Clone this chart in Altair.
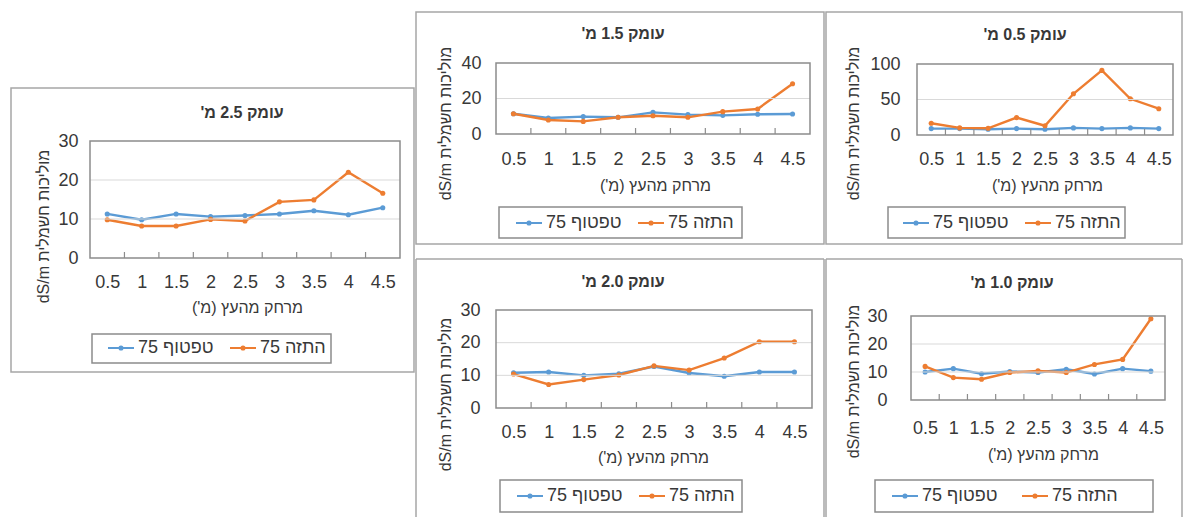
import altair as alt
import pandas as pd

# Distance from the tree (m) - shared x categories
distances = [0.5, 1, 1.5, 2, 2.5, 3, 3.5, 4, 4.5]

# Series (irrigation method) names and colours
series_names = ["טפטוף 75", "התזה 75"]
series_colors = ["#5B9BD5", "#ED7D31"]

# Electrical conductivity (dS/m) per depth
drip_05 = [9, 9, 8, 9, 8, 10, 9, 10, 9]
spray_05 = [16.5, 10, 9.5, 24.5, 13, 58, 91, 51, 37]

drip_10 = [10.0, 11.2, 9.4, 10.2, 9.8, 11.0, 9.3, 11.2, 10.3]
spray_10 = [12.0, 8.0, 7.4, 9.8, 10.4, 9.8, 12.7, 14.5, 29.0]

drip_15 = [11.4, 9.0, 9.8, 9.4, 12.2, 10.9, 10.5, 11.1, 11.3]
spray_15 = [11.4, 7.9, 7.1, 9.4, 10.3, 9.4, 12.6, 14.1, 28.3]

drip_20 = [10.8, 11.0, 10.0, 10.5, 12.7, 10.7, 9.7, 11.0, 11.0]
spray_20 = [10.4, 7.2, 8.7, 10.1, 12.9, 11.6, 15.3, 20.3, 20.3]

drip_25 = [11.3, 9.8, 11.3, 10.6, 10.9, 11.3, 12.1, 11.1, 12.9]
spray_25 = [9.8, 8.2, 8.2, 9.9, 9.5, 14.4, 14.9, 22.0, 16.6]

# Panel titles and y-axis tick values
titles = {
    "0.5": "עומק 0.5 מ'",
    "1.0": "עומק 1.0 מ'",
    "1.5": "עומק 1.5 מ'",
    "2.0": "עומק 2.0 מ'",
    "2.5": "עומק 2.5 מ'",
}
y_ticks = {
    "0.5": [0, 50, 100],
    "1.0": [0, 10, 20, 30],
    "1.5": [0, 20, 40],
    "2.0": [0, 10, 20, 30],
    "2.5": [0, 10, 20, 30],
}
x_title = "מרחק מהעץ (מ')"
y_title = "מוליכות חשמלית dS/m"

RLE, PDF = "\u202b", "\u202c"


def rtl(s):
    return RLE + s + PDF


FONT = "Liberation Sans"
TEXT = "#383838"
BORDER = "#a6a6a6"
FRAME = "#8c8c8c"
GRID = "#d9d9d9"
TICK_FS = 18
LEG_FS = 18
ATITLE_FS = 16

# Layout of every panel, in pixels relative to the panel's own origin
layout = {
    "2.5": dict(W=405, H=362, box=(1, 404, 77, 361), open_bottom=False,
                title=(232, 102), plot=(80, 390, 130, 247),
                ylab_pad=12, ytitle=(33, 215), xlab_pad=24, xtitle=(237, 49),
                legend=(97, 323), leg_box=(82, 321, 323, 352), col_pad=12),
    "1.5": dict(W=410, H=234, box=(1, 409, 1, 233), open_bottom=False,
                title=(208, 23), plot=(81, 395, 52, 123),
                ylab_pad=15, ytitle=(30, 112), xlab_pad=25, xtitle=(240, 51),
                legend=(100, 198), leg_box=(84, 327, 196, 227), col_pad=12),
    "0.5": dict(W=358, H=234, box=(1, 357, 1, 233), open_bottom=False,
                title=(200, 24), plot=(92, 348, 53, 124),
                ylab_pad=17, ytitle=(28, 112), xlab_pad=24, xtitle=(222, 50),
                legend=(77, 198), leg_box=(63, 300, 196, 227), col_pad=12),
    "2.0": dict(W=410, H=259, box=(1, 409, 1, 259), open_bottom=True,
                title=(208, 24), plot=(81, 397, 52, 150),
                ylab_pad=16, ytitle=(30, 136), xlab_pad=24, xtitle=(238, 49),
                legend=(101, 224), leg_box=(85, 327, 222, 254), col_pad=12),
    "1.0": dict(W=358, H=259, box=(1, 357, 1, 259), open_bottom=True,
                title=(187, 25), plot=(86, 340, 58, 142),
                ylab_pad=24, ytitle=(28, 123), xlab_pad=28, xtitle=(218, 54),
                legend=(66, 224), leg_box=(50, 328, 222, 254), col_pad=20),
}

step = distances[1] - distances[0]
x_lo, x_hi = distances[0] - step / 2, distances[-1] + step / 2
boundaries = [(a + b) / 2 for a, b in zip(distances, distances[1:])]

LEGEND_SYMBOL = "M-1,0H1M0.12,0A0.12,0.12,0,1,1,-0.12,0A0.12,0.12,0,1,1,0.12,0Z"


def one_row():
    return pd.DataFrame({"k": [0]})


def panel(key, drip, spray):
    g = layout[key]
    W, H = g["W"], g["H"]
    px0, px1, py0, py1 = g["plot"]
    ticks = y_ticks[key]

    df = pd.DataFrame({
        "dist": distances * 2,
        "value": drip + spray,
        "series": [series_names[0]] * len(distances) + [series_names[1]] * len(distances),
    })

    xs = alt.Scale(domain=[x_lo, x_hi], range=[px0, px1], nice=False, zero=False)
    ys = alt.Scale(domain=[ticks[0], ticks[-1]], range=[py1, py0], nice=False)

    lx, ly = g["legend"]
    lines = alt.Chart(df).mark_line(
        strokeWidth=2.4,
        point=alt.OverlayMarkDef(filled=True, size=26, opacity=1),
    ).encode(
        x=alt.X("dist:Q", scale=xs, axis=alt.Axis(
            values=distances, format="~g", offset=-(H - py1), ticks=False, tickSize=0,
            domain=False, grid=False, labelOverlap=False, labelFlush=False,
            labelBaseline="middle", labelPadding=g["xlab_pad"],
            labelFont=FONT, labelFontSize=TICK_FS, labelColor=TEXT,
            title=rtl(x_title), titleX=g["xtitle"][0], titleY=g["xtitle"][1],
            titleAlign="center", titleBaseline="middle", titleAnchor="start",
            titleFont=FONT, titleFontSize=ATITLE_FS, titleFontWeight="normal", titleColor=TEXT,
        )),
        y=alt.Y("value:Q", scale=ys, axis=alt.Axis(
            values=ticks, offset=-px0, ticks=False, tickSize=0, domain=False, grid=False,
            labelOverlap=False, labelFlush=False, labelPadding=g["ylab_pad"],
            labelFont=FONT, labelFontSize=TICK_FS, labelColor=TEXT,
            title=rtl(y_title), titleX=g["ytitle"][0] - px0, titleY=g["ytitle"][1],
            titleAngle=270, titleAlign="center", titleBaseline="middle", titleAnchor="start",
            titleFont=FONT, titleFontSize=ATITLE_FS, titleFontWeight="normal", titleColor=TEXT,
        )),
        color=alt.Color("series:N", scale=alt.Scale(domain=series_names, range=series_colors),
                        legend=alt.Legend(
                            orient="none", legendX=lx, legendY=ly, direction="horizontal",
                            title=None, symbolType=LEGEND_SYMBOL, symbolSize=676,
                            symbolStrokeWidth=2, labelFont=FONT, labelFontSize=LEG_FS,
                            labelColor=TEXT, labelOffset=3, columnPadding=g["col_pad"],
                            padding=0, labelExpr=f"'{RLE}' + datum.label + '{PDF}'",
                        )),
    )

    # horizontal gridlines at the inner y ticks
    grid = alt.Chart(pd.DataFrame({"value": ticks[1:-1]})).mark_rule(
        color=GRID, strokeWidth=1
    ).encode(
        y=alt.Y("value:Q", scale=ys),
        x=alt.value(px0), x2=alt.value(px1),
    )

    # inward category tick marks between distances
    tick_marks = alt.Chart(pd.DataFrame({"dist": boundaries})).mark_rule(
        color=FRAME, strokeWidth=1.2
    ).encode(
        x=alt.X("dist:Q", scale=xs),
        y=alt.value(py1), y2=alt.value(py1 - 6),
    )

    frame = alt.Chart(one_row()).mark_rect(
        fill="transparent", stroke=FRAME, strokeWidth=1.5
    ).encode(
        x=alt.value(px0), x2=alt.value(px1), y=alt.value(py0), y2=alt.value(py1)
    )

    bx0, bx1, by0, by1 = g["box"]
    if g["open_bottom"]:
        border = alt.layer(
            alt.Chart(one_row()).mark_rule(color=BORDER, strokeWidth=1.5).encode(
                x=alt.value(bx0), x2=alt.value(bx1), y=alt.value(by0)),
            alt.Chart(one_row()).mark_rule(color=BORDER, strokeWidth=1.5).encode(
                x=alt.value(bx0), y=alt.value(by0), y2=alt.value(by1)),
            alt.Chart(one_row()).mark_rule(color=BORDER, strokeWidth=1.5).encode(
                x=alt.value(bx1), y=alt.value(by0), y2=alt.value(by1)),
        )
    else:
        border = alt.Chart(one_row()).mark_rect(
            fill="transparent", stroke=BORDER, strokeWidth=1.5
        ).encode(x=alt.value(bx0), x2=alt.value(bx1), y=alt.value(by0), y2=alt.value(by1))

    lb = g["leg_box"]
    legend_box = alt.Chart(one_row()).mark_rect(
        fill="transparent", stroke=FRAME, strokeWidth=1.5
    ).encode(x=alt.value(lb[0]), x2=alt.value(lb[1]), y=alt.value(lb[2]), y2=alt.value(lb[3]))

    title = alt.Chart(pd.DataFrame({"t": [rtl(titles[key])]})).mark_text(
        font=FONT, fontSize=16, fontWeight="bold", color=TEXT, align="center", baseline="middle"
    ).encode(x=alt.value(g["title"][0]), y=alt.value(g["title"][1]), text="t:N")

    return alt.layer(lines, border, grid, frame, tick_marks, legend_box, title).properties(
        width=W, height=H
    )


p25 = panel("2.5", drip_25, spray_25)
p15 = panel("1.5", drip_15, spray_15)
p20 = panel("2.0", drip_20, spray_20)
p05 = panel("0.5", drip_05, spray_05)
p10 = panel("1.0", drip_10, spray_10)

mid = alt.vconcat(p15, p20, spacing=13).resolve_scale(
    color="independent").resolve_legend(color="independent")
right = alt.vconcat(p05, p10, spacing=13).resolve_scale(
    color="independent").resolve_legend(color="independent")

chart = alt.hconcat(p25, mid, right, spacing=0).resolve_scale(
    color="independent").resolve_legend(color="independent").properties(
    padding={"left": 10, "top": 11, "right": 0, "bottom": 0},
    background="white",
).configure_view(strokeWidth=0, strokeOpacity=0)

chart.save("out.html", embed_options={"renderer": "svg", "actions": False})
